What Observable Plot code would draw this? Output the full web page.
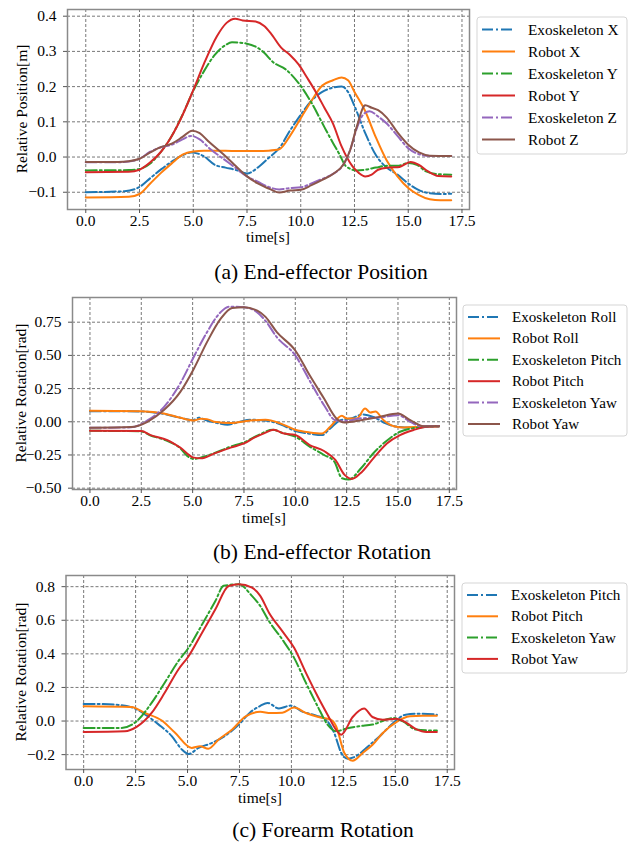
<!DOCTYPE html>
<html><head><meta charset="utf-8">
<script src="https://cdn.jsdelivr.net/npm/d3@7"></script>
<script src="https://cdn.jsdelivr.net/npm/@observablehq/plot@0.6"></script>
<style>
body{margin:0;background:#fff;}
#wrap{position:relative;width:633px;height:844px;font-family:"Liberation Serif","Times New Roman",serif;}
#wrap svg{position:absolute;left:0;}
#wrap svg text{font-family:"Liberation Serif","Times New Roman",serif !important;}
</style></head><body><div id="wrap"></div>
<script>
// ---------- shared ----------
const xTicks = [0, 2.5, 5, 7.5, 10, 12.5, 15, 17.5];
const colors = ["#1f77b4", "#ff7f0e", "#2ca02c", "#d62728", "#9467bd", "#8c564b"];
const dashDot = "11,3,2,3";

// ---------- (a) End-effector Position ----------
const aLabels = ["Exoskeleton X", "Robot X", "Exoskeleton Y", "Robot Y", "Exoskeleton Z", "Robot Z"];
const aYTicks = [-0.1, 0.0, 0.1, 0.2, 0.3, 0.4];
const aExoX = [[0,-0.1],[1.8,-0.097],[2.5,-0.085],[3,-0.06],[3.5,-0.035],[4,-0.013],[4.5,0.005],[4.9,0.013],[5.5,0.002],[6,-0.022],[6.5,-0.03],[7,-0.037],[7.5,-0.047],[8,-0.03],[8.5,-0.003],[9,0.025],[9.5,0.075],[10,0.12],[10.5,0.16],[11,0.185],[11.5,0.197],[11.9,0.2],[12.2,0.185],[12.5,0.145],[13,0.068],[13.5,0.005],[14,-0.03],[14.5,-0.05],[15,-0.075],[15.5,-0.094],[16,-0.103],[16.5,-0.105],[17,-0.104]];
const aRobX = [[0,-0.115],[2,-0.113],[2.5,-0.105],[3,-0.075],[3.5,-0.045],[4,-0.018],[4.5,0.007],[5,0.016],[5.5,0.018],[6,0.018],[7,0.017],[8,0.017],[8.5,0.018],[9,0.022],[9.5,0.06],[10,0.11],[10.5,0.16],[11,0.203],[11.5,0.218],[11.9,0.226],[12.2,0.218],[12.5,0.185],[13,0.13],[13.5,0.055],[14,-0.01],[14.5,-0.055],[15,-0.088],[15.5,-0.108],[16,-0.12],[16.5,-0.123],[17,-0.123]];
const aExoY = [[0,-0.038],[2,-0.037],[2.5,-0.034],[3,-0.018],[3.5,0.015],[4,0.06],[4.5,0.12],[5,0.188],[5.5,0.244],[6,0.29],[6.5,0.318],[6.8,0.326],[7.5,0.322],[8,0.31],[8.3,0.296],[8.7,0.27],[9.3,0.249],[9.9,0.21],[10.5,0.154],[11.1,0.085],[11.5,0.04],[11.8,0.008],[12.1,-0.026],[12.6,-0.038],[13,-0.036],[13.5,-0.03],[14,-0.025],[14.5,-0.025],[15,-0.017],[15.4,-0.022],[15.8,-0.04],[16.3,-0.048],[17,-0.05]];
const aRobY = [[0,-0.043],[2,-0.042],[2.5,-0.036],[3,-0.015],[3.5,0.015],[3.8,0.04],[4.4,0.106],[5,0.19],[5.5,0.265],[6.1,0.343],[6.55,0.381],[6.95,0.393],[7.3,0.388],[7.9,0.385],[8.3,0.372],[8.6,0.352],[9.1,0.31],[9.5,0.29],[9.9,0.263],[10.3,0.225],[10.7,0.185],[11.1,0.14],[11.5,0.095],[11.9,0.03],[12.4,-0.026],[12.7,-0.045],[13,-0.055],[13.3,-0.05],[13.6,-0.036],[14.1,-0.03],[14.6,-0.028],[15.1,-0.014],[15.5,-0.022],[15.9,-0.04],[16.4,-0.054],[17,-0.055]];
const aExoZ = [[0,-0.015],[1.5,-0.015],[2,-0.013],[2.5,-0.005],[3,0.015],[3.5,0.028],[4,0.035],[4.5,0.05],[4.9,0.06],[5.3,0.05],[5.8,0.022],[6.4,-0.005],[6.9,-0.028],[7.5,-0.055],[8,-0.07],[8.5,-0.085],[9,-0.092],[9.5,-0.088],[10,-0.086],[10.5,-0.075],[11,-0.062],[11.5,-0.048],[12,-0.02],[12.3,0.02],[12.6,0.08],[12.9,0.12],[13.2,0.13],[13.6,0.115],[14,0.095],[14.5,0.06],[15,0.025],[15.5,0.008],[16,0.003],[17,0.003]];
const aRobZ = [[0,-0.014],[1.5,-0.014],[2,-0.012],[2.5,-0.005],[3,0.013],[3.4,0.026],[4,0.038],[4.5,0.057],[4.95,0.075],[5.3,0.068],[5.7,0.045],[6.4,0.008],[6.9,-0.021],[7.5,-0.055],[8,-0.075],[8.6,-0.092],[9,-0.101],[9.5,-0.095],[10,-0.093],[10.5,-0.08],[11,-0.065],[11.5,-0.048],[12,-0.02],[12.3,0.02],[12.6,0.085],[13,0.147],[13.3,0.14],[13.6,0.133],[14,0.112],[14.5,0.07],[15,0.035],[15.5,0.013],[16,0.004],[17,0.003]];

// ---------- (b) End-effector Rotation ----------
const bLabels = ["Exoskeleton Roll", "Robot Roll", "Exoskeleton Pitch", "Robot Pitch", "Exoskeleton Yaw", "Robot Yaw"];
const bYTicks = [-0.5, -0.25, 0.0, 0.25, 0.5, 0.75];
const bExoRoll = [[0,0.08],[2.5,0.078],[3.5,0.062],[4.4,0.03],[5,0.012],[5.3,0.03],[5.7,0.01],[6.2,-0.01],[6.7,-0.022],[7.3,0.0],[7.8,0.015],[8.5,0.01],[9.3,-0.02],[10,-0.07],[10.7,-0.09],[11.3,-0.1],[11.7,-0.05],[12.2,0.012],[12.7,0.025],[13.3,0.055],[13.8,0.037],[14.4,-0.012],[14.95,-0.037],[15.6,-0.043],[16.3,-0.035],[17,-0.033]];
const bRobRoll = [[0,0.083],[2.5,0.08],[3.6,0.063],[4.4,0.03],[5.06,0.01],[5.4,0.022],[5.7,0.02],[6.04,0.0],[6.85,-0.01],[7.8,0.01],[8.55,0.015],[9.27,-0.012],[10,-0.06],[10.7,-0.08],[11.3,-0.088],[11.7,-0.037],[12.27,0.045],[12.5,0.025],[13,0.025],[13.4,0.1],[13.65,0.07],[13.9,0.078],[14.3,0.012],[14.8,-0.033],[15.3,-0.043],[16.1,-0.037],[17,-0.033]];
const bExoPitch = [[0,-0.068],[2.5,-0.072],[2.9,-0.1],[3.7,-0.14],[4.4,-0.2],[4.75,-0.26],[5.1,-0.28],[5.5,-0.265],[6,-0.24],[6.8,-0.19],[7.5,-0.155],[8.2,-0.1],[8.9,-0.06],[9.4,-0.085],[10,-0.112],[10.7,-0.187],[11.4,-0.25],[11.9,-0.3],[12.27,-0.425],[12.6,-0.435],[13.2,-0.35],[13.8,-0.237],[14.5,-0.137],[15.1,-0.075],[15.9,-0.045],[17,-0.033]];
const bRobPitch = [[0,-0.068],[2.5,-0.07],[2.95,-0.1],[3.77,-0.138],[4.4,-0.195],[5.06,-0.27],[5.4,-0.275],[6.04,-0.24],[6.85,-0.195],[7.5,-0.163],[8,-0.12],[8.5,-0.085],[8.95,-0.06],[9.4,-0.087],[10,-0.1],[10.7,-0.175],[11.4,-0.22],[11.95,-0.287],[12.4,-0.4],[12.76,-0.43],[13.17,-0.388],[13.8,-0.275],[14.46,-0.163],[15.1,-0.1],[15.76,-0.062],[16.4,-0.037],[17,-0.033]];
const bExoYaw = [[0,-0.045],[2,-0.042],[2.8,0.01],[3.6,0.11],[4.4,0.29],[5.06,0.49],[5.7,0.675],[6.36,0.825],[6.77,0.867],[7.5,0.862],[8.1,0.83],[8.55,0.76],[9.1,0.637],[10,0.5],[10.7,0.31],[11.4,0.125],[11.95,0.012],[12.5,0.005],[13.1,0.025],[14.1,0.032],[15,0.05],[15.6,0.0],[16.1,-0.033],[17,-0.033]];
const bRobYaw = [[0,-0.045],[2,-0.04],[2.8,0.0],[3.6,0.088],[4.4,0.225],[5.06,0.4],[5.7,0.6],[6.36,0.775],[6.93,0.857],[7.5,0.862],[8.15,0.837],[8.55,0.79],[9.1,0.675],[10,0.537],[10.7,0.35],[11.4,0.175],[12,0.025],[12.4,-0.005],[13.2,0.012],[14.1,0.037],[15,0.062],[15.6,0.012],[16.25,-0.033],[17,-0.033]];

// ---------- (c) Forearm Rotation ----------
const cLabels = ["Exoskeleton Pitch", "Robot Pitch", "Exoskeleton Yaw", "Robot Yaw"];
const cYTicks = [-0.2, 0.0, 0.2, 0.4, 0.6, 0.8];
const cExoPitch = [[0,0.102],[1.2,0.1],[2.3,0.082],[2.95,0.04],[3.6,-0.02],[4.24,-0.09],[4.73,-0.17],[5.05,-0.196],[5.53,-0.16],[6.18,-0.13],[6.82,-0.087],[7.47,-0.021],[8,0.05],[8.5,0.09],[8.85,0.108],[9.4,0.075],[9.97,0.092],[10.5,0.058],[11.2,0.032],[11.66,0.008],[12.06,-0.071],[12.4,-0.19],[12.7,-0.224],[13.1,-0.21],[13.6,-0.16],[14.25,-0.09],[14.9,-0.012],[15.5,0.038],[16.2,0.044],[17,0.038]];
const cRobPitch = [[0,0.088],[2.3,0.084],[2.95,0.048],[3.76,0.003],[4.4,-0.07],[5.2,-0.16],[5.6,-0.15],[6,-0.165],[6.5,-0.11],[7.15,-0.05],[7.8,0.028],[8.5,0.055],[9,0.048],[9.56,0.05],[10.13,0.08],[10.7,0.048],[11.3,0.024],[11.9,0.008],[12.15,-0.031],[12.55,-0.19],[12.95,-0.236],[13.43,-0.19],[13.92,-0.14],[14.4,-0.071],[15.05,-0.006],[15.7,0.028],[16.3,0.032],[17,0.032]];
const cExoYaw = [[0,-0.041],[1.8,-0.041],[2.55,-0.001],[3.27,0.108],[3.9,0.228],[4.56,0.357],[5.05,0.436],[5.7,0.575],[6.34,0.715],[6.74,0.805],[7.47,0.814],[8.1,0.745],[8.5,0.685],[8.92,0.595],[9.56,0.486],[10.13,0.376],[10.7,0.227],[11.26,0.088],[11.74,-0.021],[12.15,-0.061],[12.63,-0.045],[13.27,-0.031],[13.9,-0.021],[14.9,0.018],[15.37,-0.002],[16,-0.051],[17,-0.057]];
const cRobYaw = [[0,-0.065],[1.98,-0.061],[2.55,-0.035],[3.27,0.048],[3.9,0.168],[4.56,0.307],[5.05,0.386],[5.7,0.526],[6.34,0.665],[6.98,0.804],[7.47,0.814],[8.1,0.794],[8.5,0.745],[8.92,0.645],[9.56,0.535],[10.13,0.436],[10.7,0.287],[11.26,0.148],[11.74,0.038],[12.15,-0.052],[12.4,-0.081],[12.95,0.024],[13.5,0.074],[13.9,0.024],[14.4,0.008],[15.05,0.014],[15.5,-0.008],[16,-0.048],[16.5,-0.065],[17,-0.065]];

const FONT = '"Liberation Serif","Times New Roman",serif';
const wrap = document.getElementById("wrap");

function makePanel(cfg) {
  const {top, height, frameL, frameR, frameT, frameB, yDomain, yTicks, yFmt, series, col} = cfg;
  const marks = [
    Plot.gridX(xTicks, {stroke: "#555", strokeOpacity: 1, strokeWidth: 0.8, strokeDasharray: "3,2"}),
    Plot.gridY(yTicks, {stroke: "#555", strokeOpacity: 1, strokeWidth: 0.8, strokeDasharray: "3,2"})
  ];
  series.forEach((pts, i) => {
    const data = pts.map(([t, v]) => ({t, v}));
    marks.push(Plot.line(data, {x: "t", y: "v", stroke: col[i], strokeWidth: 2,
      strokeDasharray: i % 2 === 0 ? dashDot : null, curve: "monotone-x"}));
  });
  marks.push(
    Plot.frame({stroke: "#8a8a8a", strokeWidth: 1.5}),
    Plot.axisX(xTicks, {tickFormat: d3.format(".1f"), tickSize: 4, tickPadding: 1, label: null,
      stroke: "#555", fontSize: 15.5}),
    Plot.axisY(yTicks, {tickFormat: d3.format(yFmt), tickSize: 4, tickPadding: 7, label: null,
      stroke: "#555", fontSize: 15.5})
  );
  const svg = Plot.plot({
    width: 633, height,
    marginLeft: frameL, marginRight: 633 - frameR,
    marginTop: frameT - top, marginBottom: top + height - frameB,
    x: {domain: [-0.85, 17.85]},
    y: {domain: yDomain},
    style: {fontSize: "15.5px", color: "#000", background: "transparent", overflow: "visible"},
    marks
  });
  svg.style.top = top + "px";
  d3.select(svg).selectAll("text").attr("font-family", FONT).style("font-family", FONT).attr("font-size", 15.5);
  wrap.appendChild(svg);
}

makePanel({top: 0, height: 250, frameL: 67, frameR: 469, frameT: 9, frameB: 209,
  yDomain: [-0.149, 0.419], yTicks: aYTicks, yFmt: ".1f",
  series: [aExoX, aRobX, aExoY, aRobY, aExoZ, aRobZ], col: colors});
makePanel({top: 280, height: 250, frameL: 72, frameR: 456, frameT: 297, frameB: 489,
  yDomain: [-0.51, 0.936], yTicks: bYTicks, yFmt: ".2f",
  series: [bExoRoll, bRobRoll, bExoPitch, bRobPitch, bExoYaw, bRobYaw], col: colors});
makePanel({top: 560, height: 250, frameL: 65.5, frameR: 454, frameT: 575, frameB: 769,
  yDomain: [-0.2885, 0.8665], yTicks: cYTicks, yFmt: ".1f",
  series: [cExoPitch, cRobPitch, cExoYaw, cRobYaw], col: colors.slice(0, 4)});

// ---------- overlay: axis titles, legends, captions ----------
const ov = d3.select(wrap).append("svg").attr("width", 633).attr("height", 844)
  .style("top", "0px").style("pointer-events", "none")
  .attr("font-family", FONT).attr("fill", "#000");

function yTitle(text, x, cy) {
  ov.append("text").attr("transform", `translate(${x},${cy}) rotate(-90)`)
    .attr("text-anchor", "middle").attr("font-size", 15.5).text(text);
}
function xTitle(x, y) {
  ov.append("text").attr("x", x).attr("y", y).attr("text-anchor", "middle").attr("font-size", 15.5).text("time[s]");
}
function caption(text, x, y) {
  ov.append("text").attr("x", x).attr("y", y).attr("text-anchor", "middle").attr("font-size", 21.5).text(text);
}
function legend(labels, box, rows, sx0, sx1, tx, fs) {
  ov.append("rect").attr("x", box[0]).attr("y", box[1]).attr("width", box[2] - box[0]).attr("height", box[3] - box[1])
    .attr("rx", 3).attr("fill", "#fff").attr("fill-opacity", 0.85).attr("stroke", "#d5d5d5").attr("stroke-width", 1);
  labels.forEach((lab, i) => {
    const y = rows[0] + i * rows[1];
    ov.append("line").attr("x1", sx0).attr("x2", sx1).attr("y1", y).attr("y2", y)
      .attr("stroke", colors[i]).attr("stroke-width", 2)
      .attr("stroke-dasharray", i % 2 === 0 ? dashDot : null);
    ov.append("text").attr("x", tx).attr("y", y).attr("dy", "0.33em").attr("font-size", fs).text(lab);
  });
}

yTitle("Relative Position[m]", 27, 109);
yTitle("Relative Rotation[rad]", 26, 393);
yTitle("Relative Rotation[rad]", 26, 672);
xTitle(268, 242);
xTitle(264, 523);
xTitle(260, 803);
caption("(a) End-effector Position", 321, 279);
caption("(b) End-effector Rotation", 322, 559);
caption("(c) Forearm Rotation", 323, 837);
legend(aLabels, [477, 17, 627, 154], [29.5, 22], 482, 515, 528, 15.3);
legend(bLabels, [463, 305, 627, 436], [317, 21.4], 468, 500, 512, 15.1);
legend(cLabels, [462, 583, 627, 673], [595, 21.3], 467, 498, 511, 15.1);
</script></body></html>
